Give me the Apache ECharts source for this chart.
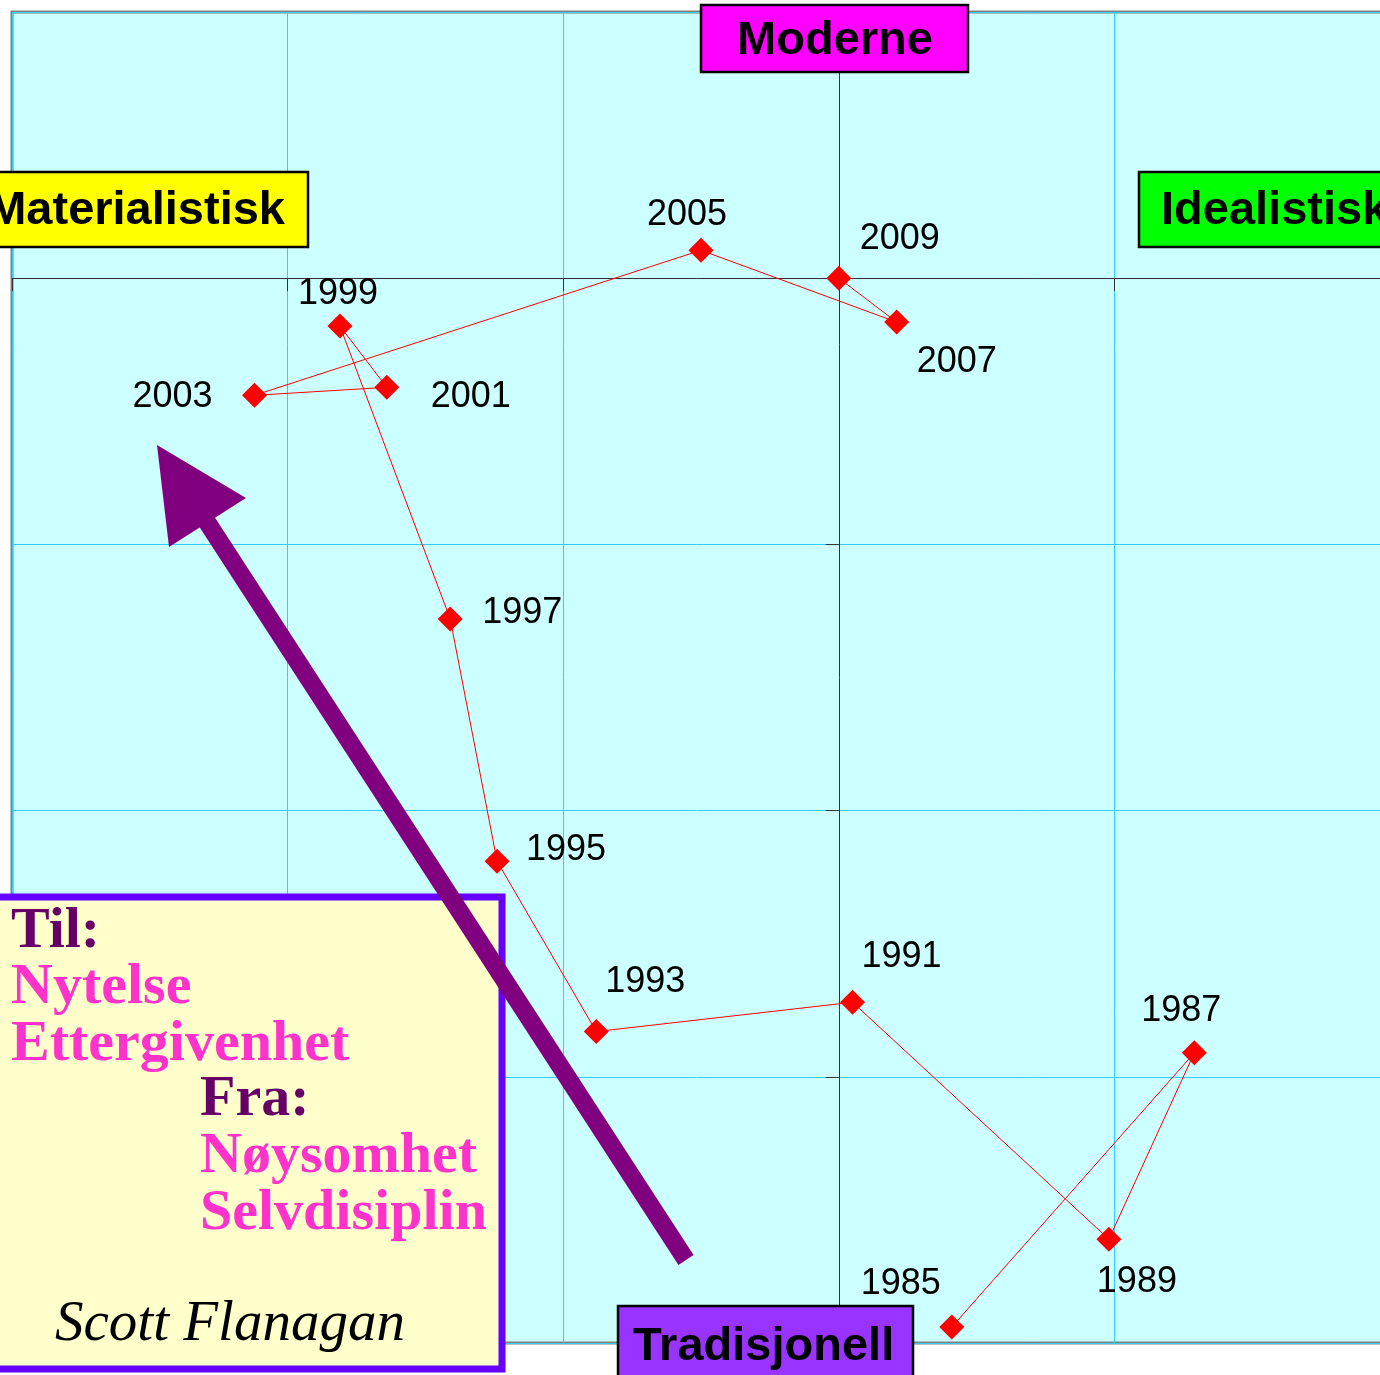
<!DOCTYPE html>
<html>
<head>
<meta charset="utf-8">
<title>Verdier 1985-2009</title>
<script src="https://cdn.jsdelivr.net/npm/echarts@6/dist/echarts.min.js"></script>
<style>
  html, body { margin: 0; padding: 0; background: #fff; }
  #chart { width: 1380px; height: 1375px; }
</style>
</head>
<body>
<div id="chart"></div>
<script>
// år og koordinater (materialistisk/idealistisk, tradisjonell/moderne)
const years = ["1985", "1987", "1989", "1991", "1993", "1995", "1997", "1999", "2001", "2003", "2005", "2007", "2009"];
const xValues = [0.41, 1.29, 0.98, 0.05, -0.88, -1.24, -1.41, -1.81, -1.64, -2.12, -0.50, 0.21, 0.00];
const yValues = [-3.94, -2.91, -3.61, -2.72, -2.83, -2.19, -1.28, -0.18, -0.41, -0.44, 0.105, -0.165, 0.00];

// label placement around each point (px)
const labelOffsets = [
  [-51, -43], [-13, -42], [28, 43], [49, -45], [49, -49], [69, -11], [72, -6],
  [-2, -32], [84, 10], [-82, 2], [-14, -35], [60, 40], [61, -39]
];

const chart = echarts.init(document.getElementById("chart"));

const seriesData = years.map((y, i) => ({
  value: [xValues[i], yValues[i]],
  name: y,
  label: { offset: labelOffsets[i] },
}));

const boxFont = 'bold 47px "Liberation Sans", Arial, sans-serif';
const serifBold = 'bold 58px "Liberation Serif", "Times New Roman", serif';

function box(x, y, w, h, fill, text, tx, ty, align) {
  return {
    type: "group",
    children: [
      {
        type: "rect",
        z: 100,
        shape: { x: x, y: y, width: w, height: h },
        style: { fill: fill, stroke: "#000", lineWidth: 2.5 },
      },
      {
        type: "text",
        z: 101,
        style: {
          text: text,
          x: tx,
          y: ty,
          font: boxFont,
          fill: "#000",
          textAlign: align,
          textVerticalAlign: "middle",
        },
      },
    ],
  };
}

function serifText(text, x, baseline, color, font) {
  return {
    type: "text",
    z: 110,
    style: {
      text: text,
      x: x,
      y: baseline + 11,
      font: font || serifBold,
      fill: color,
      textAlign: "left",
      textVerticalAlign: "bottom",
    },
  };
}

const option = {
  animation: false,
  backgroundColor: "#fff",
  grid: {
    left: 12,
    top: 12,
    width: 1378,
    height: 1331,
    containLabel: false,
    outerBoundsMode: "none",
    show: true,
    backgroundColor: "#CCFFFF",
    borderColor: "#808080",
    borderWidth: 3,
  },
  xAxis: {
    type: "value",
    min: -3,
    max: 2,
    interval: 1,
    axisLine: { onZero: true, lineStyle: { color: "#333", width: 1 } },
    axisTick: { show: true, length: 13, lineStyle: { color: "#333" } },
    axisLabel: { show: false },
    splitLine: { lineStyle: { color: "#33CCFF", width: 1 } },
  },
  yAxis: {
    type: "value",
    min: -4,
    max: 1,
    interval: 1,
    axisLine: { onZero: true, lineStyle: { color: "#333", width: 1 } },
    axisTick: { show: true, length: 13, lineStyle: { color: "#333" } },
    axisLabel: { show: false },
    splitLine: { lineStyle: { color: "#33CCFF", width: 1 } },
  },
  series: [
    {
      type: "line",
      data: seriesData,
      symbol: "diamond",
      symbolSize: 25,
      itemStyle: { color: "#FF0000" },
      lineStyle: { color: "#FF0000", width: 1 },
      label: {
        show: true,
        position: "inside",
        formatter: (p) => p.name,
        color: "#000",
        fontSize: 36,
        fontFamily: '"Liberation Sans", Arial, sans-serif',
      },
      z: 5,
    },
  ],
  graphic: [
    box(701, 5, 267, 67, "#FF00FF", "Moderne", 835, 41, "center"),
    box(-60, 172, 368, 75, "#FFFF00", "Materialistisk", 285, 211, "right"),
    box(1139, 172, 300, 75, "#00FF00", "Idealistisk", 1161, 211, "left"),
    box(618, 1306, 295, 100, "#9933FF", "Tradisjonell", 633, 1347, "left"),
    // tekstboks
    {
      type: "rect",
      z: 105,
      shape: { x: -10, y: 897, width: 512, height: 472 },
      style: { fill: "#FFFFCC", stroke: "#6600FF", lineWidth: 7 },
    },
    serifText("Til:", 11, 950, "#660066"),
    serifText("Nytelse", 11, 1006, "#FF33CC"),
    serifText("Ettergivenhet", 11, 1063, "#FF33CC"),
    serifText("Fra:", 200, 1118, "#660066"),
    serifText("Nøysomhet", 200, 1175, "#FF33CC"),
    serifText("Selvdisiplin", 200, 1232, "#FF33CC"),
    serifText("Scott Flanagan", 55, 1343, "#000", 'italic 57px "Liberation Serif", "Times New Roman", serif'),
    // pil
    {
      type: "polyline",
      z: 120,
      shape: { points: [[686, 1260], [207, 522]] },
      style: { stroke: "#800080", lineWidth: 18, lineCap: "butt" },
    },
    {
      type: "polygon",
      z: 120,
      shape: { points: [[157, 445], [246, 498], [169, 547]] },
      style: { fill: "#800080" },
    },
  ],
};

chart.setOption(option);
</script>
</body>
</html>
